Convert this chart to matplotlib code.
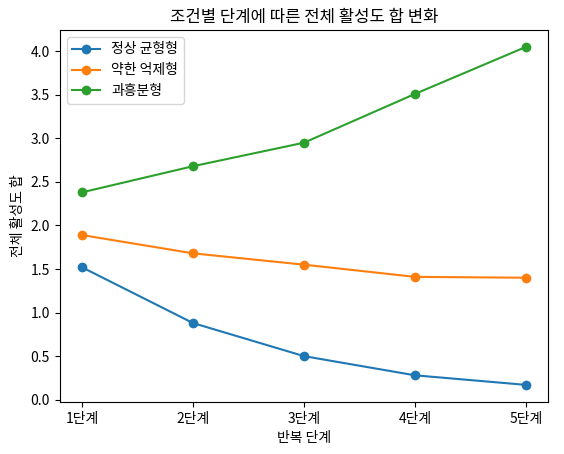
import matplotlib
matplotlib.use("Agg")
import matplotlib.pyplot as plt

plt.rcParams['font.family'] = ['Noto Sans CJK KR', 'DejaVu Sans']
plt.rcParams['axes.unicode_minus'] = False

stages = ["1단계", "2단계", "3단계", "4단계", "5단계"]
normal = [1.52, 0.88, 0.50, 0.28, 0.17]
weak = [1.89, 1.68, 1.55, 1.41, 1.40]
excite = [2.38, 2.68, 2.95, 3.51, 4.05]

fig, ax = plt.subplots(figsize=(5.64, 4.54), dpi=100)
x = range(len(stages))
ax.plot(x, normal, marker='o', label='정상 균형형')
ax.plot(x, weak, marker='o', label='약한 억제형')
ax.plot(x, excite, marker='o', label='과흥분형')
ax.set_xticks(list(x))
ax.set_xticklabels(stages)
ax.set_xlabel('반복 단계')
ax.set_ylabel('전체 활성도 합')
ax.set_title('조건별 단계에 따른 전체 활성도 합 변화')
ax.legend(loc='upper left')
fig.subplots_adjust(left=0.106, right=0.972, top=0.934, bottom=0.115)
fig.savefig('out.png', dpi=100)
